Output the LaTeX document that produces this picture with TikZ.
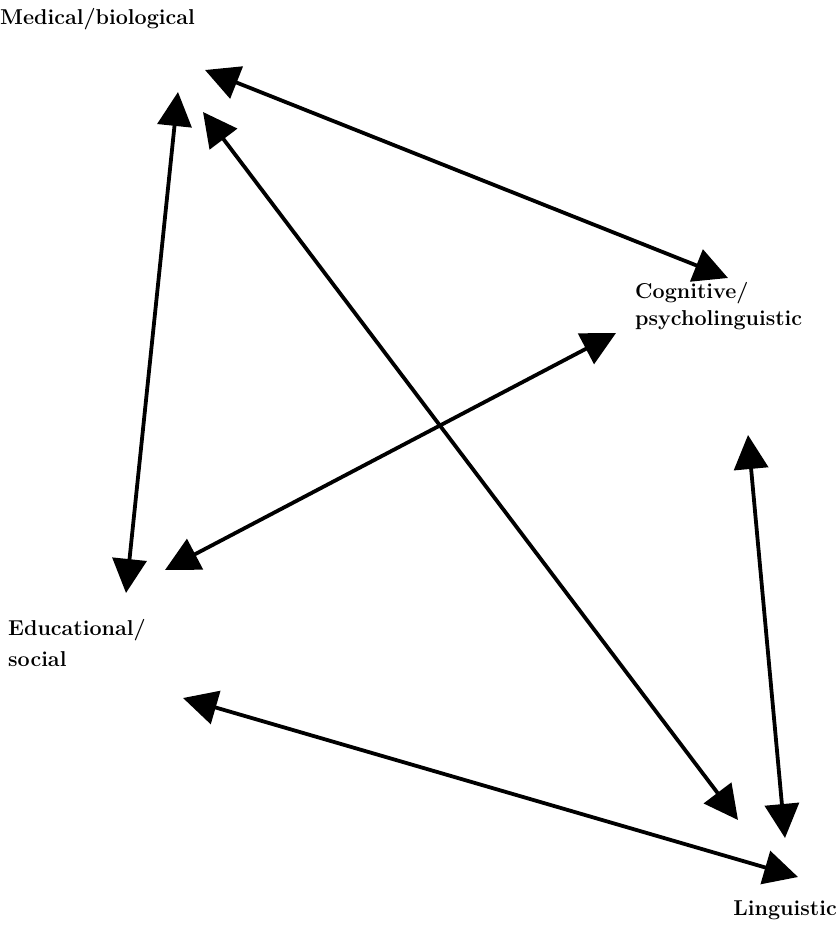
\documentclass[tikz,border=0pt]{standalone}
\usetikzlibrary{arrows.meta}
\begin{document}
\begin{tikzpicture}[x=1pt,y=-1pt,
  lbl/.style={anchor=base west,inner sep=0pt,font=\fontsize{21.5}{29}\selectfont\bfseries,align=left},
  link/.style={line width=3.8pt,{Triangle[length=34pt,width=34pt]}-{Triangle[length=34pt,width=34pt]}}]
\useasboundingbox (0,0) rectangle (838,925);
% labels
\node[lbl] (med) at (0,25) {Medical/biological};
\node[lbl,font=\fontsize{21.5}{27}\selectfont\bfseries] (cog) at (635,325) {Cognitive/\\psycholinguistic};
\node[lbl,font=\fontsize{21.5}{31}\selectfont\bfseries] (edu) at (8,666) {Educational/\\social};
\node[lbl,anchor=base east] (lin) at (837,915) {Linguistic};
% arrow end points
\coordinate (mA) at (205,70);
\coordinate (cA) at (728,278);
\coordinate (mB) at (178,92);
\coordinate (eB) at (126,593);
\coordinate (mC) at (203,112);
\coordinate (lC) at (738,820);
\coordinate (cD) at (616,333);
\coordinate (eD) at (165,570);
\coordinate (cE) at (748,435);
\coordinate (lE) at (785,838);
\coordinate (eF) at (183,698);
\coordinate (lF) at (798,877);
% connectors
\draw[link] (mA) -- (cA);
\draw[link] (mB) -- (eB);
\draw[link] (mC) -- (lC);
\draw[link] (cD) -- (eD);
\draw[link] (cE) -- (lE);
\draw[link] (eF) -- (lF);
\end{tikzpicture}
\end{document}
